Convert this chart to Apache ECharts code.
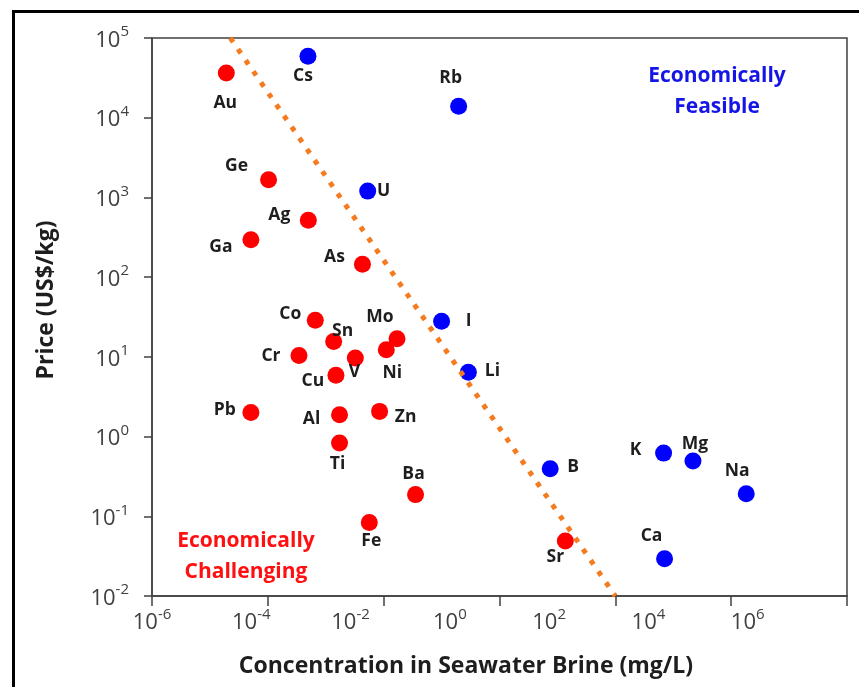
<!DOCTYPE html>
<html><head><meta charset="utf-8">
<script src="https://cdn.jsdelivr.net/npm/echarts@6/dist/echarts.min.js"></script>
<style>html,body{margin:0;padding:0;background:#fff}#c{width:859px;height:687px}</style>
</head><body><div id="c"></div>
<script>
const FONT = '"Open Sans", Lato, sans-serif';

// ---- data (concentration mg/L, price US$/kg) ----
const redNames  = ['Au','Ge','Ag','Ga','As','Co','Sn','Mo','Ni','Cr','V','Cu','Pb','Al','Zn','Ti','Ba','Fe','Sr'];
const redConc   = [1.92e-5, 1.03e-4, 5.0e-4, 5.1e-5, 4.3e-3, 6.6e-4, 1.37e-3, 0.017, 0.0111, 3.45e-4, 3.24e-3, 1.5e-3, 5.1e-5, 1.73e-3, 8.5e-3, 1.73e-3, 0.0355, 5.65e-3, 13.7];
const redPrice  = [36400, 1670, 516, 295, 145, 28.7, 15.6, 16.9, 12.3, 10.4, 9.7, 5.86, 2.0, 1.88, 2.07, 0.83, 0.187, 0.0838, 0.049];

const blueNames = ['Cs','Rb','U','I','Li','B','K','Mg','Na','Ca'];
const blueConc  = [4.93e-4, 0.197, 5.3e-3, 0.1, 0.29, 7.5, 681, 2190, 18200, 708];
const bluePrice = [58900, 13900, 1200, 28, 6.4, 0.395, 0.62, 0.493, 0.192, 0.0294];

const trendConc  = [2.25e-5, 100];
const trendPrice = [1e5, 0.01];

const xLabelExps = [-6, -4, -2, 0, 2, 4, 6];

// ---- label placement (styling, px offsets from point centre) ----
const labelOffset = {
  Au:[-1,30], Cs:[-5,20], Rb:[-8,-28], Ge:[-32,-14], U:[16,0], Ag:[-29,-5], Ga:[-30,7], As:[-28,-7],
  I:[27,0], Li:[24,-1], Co:[-25,-6], Sn:[9,-10], Mo:[-17,-22], Ni:[6,23], Cr:[-28,1], V:[-1,14],
  Cu:[-23,6], Pb:[-26,-3], Al:[-28,4], Zn:[26,6], Ti:[-2,21], Ba:[-2,-21], Fe:[2,19], Sr:[-10,16],
  B:[23,-2], K:[-28,-3], Mg:[2,-17], Na:[-9,-23], Ca:[-13,-23]
};

function pts(names, xs, ys) {
  return names.map((n, i) => ({ name: n, value: [xs[i], ys[i]], label: { offset: labelOffset[n] } }));
}
function powLabel(e) { return '{b|10}{s|' + e + '}'; }
const richTick = {
  b: { fontSize: 22, fontFamily: FONT, color: '#404040', padding: [5, 0, 0, 0], verticalAlign: 'bottom' },
  s: { fontSize: 15, fontFamily: FONT, color: '#404040', verticalAlign: 'top' }
};
const ptLabel = { show: true, position: 'inside', formatter: '{b}', color: '#1e1e1e', fontFamily: FONT, fontWeight: 'bold', fontSize: 17.5 };
const axisCol = '#404040';

const chart = echarts.init(document.getElementById('c'), null, { renderer: 'canvas' });
chart.setOption({
  backgroundColor: '#fff',
  animation: false,
  grid: { left: 152, right: 12, top: 38, bottom: 91, show: true, borderColor: axisCol, borderWidth: 1.5, backgroundColor: 'transparent' },
  xAxis: [
    { type: 'log', logBase: 100, min: 1e-6, max: 1e6, splitNumber: 6,
      axisLine: { onZero: false, lineStyle: { color: axisCol, width: 1.5 } },
      axisTick: { inside: false, length: 10, lineStyle: { color: axisCol, width: 1.5 } },
      axisLabel: { show: false }, splitLine: { show: false } },
    { type: 'value', min: -6, max: 8, interval: 2, position: 'bottom',
      axisLine: { show: false }, axisTick: { show: false }, splitLine: { show: false },
      axisLabel: { margin: 11, rich: richTick,
        formatter: v => xLabelExps.indexOf(v) >= 0 ? powLabel(v) : '' } }
  ],
  yAxis: {
    type: 'log', min: 0.01, max: 1e5, splitNumber: 7,
    axisLine: { onZero: false, lineStyle: { color: axisCol, width: 1.5 } },
    axisTick: { inside: false, length: 8, lineStyle: { color: axisCol, width: 1.5 } },
    splitLine: { show: false },
    axisLabel: { margin: 23, rich: richTick, formatter: v => powLabel(Math.round(Math.log10(v))) }
  },
  graphic: [
    { type: 'rect', shape: { x: 13.5, y: 11.5, width: 1000, height: 1000 }, style: { fill: 'none', stroke: '#000', lineWidth: 3 }, silent: true },
    { type: 'text', x: 717, y: 92, style: { text: 'Economically\nFeasible', align: 'center', verticalAlign: 'middle', font: 'bold 21px ' + FONT, fill: '#1515e6', lineHeight: 31 } },
    { type: 'text', x: 246, y: 557, style: { text: 'Economically\nChallenging', align: 'center', verticalAlign: 'middle', font: 'bold 21px ' + FONT, fill: '#ff1010', lineHeight: 31 } },
    { type: 'text', x: 466, y: 666, style: { text: 'Concentration in Seawater Brine (mg/L)', align: 'center', verticalAlign: 'middle', font: 'bold 23px ' + FONT, fill: '#1e1e1e' } },
    { type: 'text', x: 46, y: 300, rotation: Math.PI / 2, style: { text: 'Price (US$/kg)', align: 'center', verticalAlign: 'middle', font: 'bold 23px ' + FONT, fill: '#1e1e1e' } }
  ],
  series: [
    { type: 'scatter', name: 'Economically Challenging', xAxisIndex: 0, symbol: 'circle', symbolSize: 17,
      itemStyle: { color: '#ff0000', opacity: 1 }, label: ptLabel, data: pts(redNames, redConc, redPrice) },
    { type: 'scatter', name: 'Economically Feasible', xAxisIndex: 0, symbol: 'circle', symbolSize: 17,
      itemStyle: { color: '#0000ff', opacity: 1 }, label: ptLabel, data: pts(blueNames, blueConc, bluePrice) },
    { type: 'line', name: 'Boundary', xAxisIndex: 0, symbol: 'none', z: 5,
      lineStyle: { color: '#F47B20', width: 5, type: [5, 8.5] },
      data: trendConc.map((c, i) => [c, trendPrice[i]]) }
  ]
});
</script></body></html>
